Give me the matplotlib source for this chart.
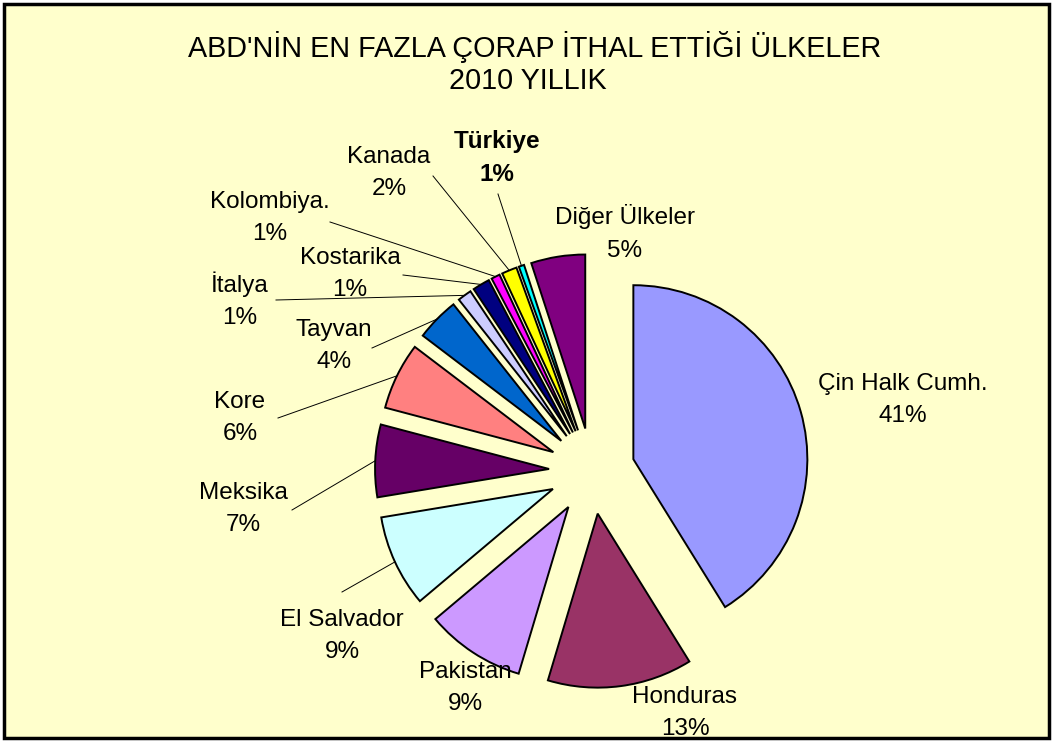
import numpy as np
import matplotlib.pyplot as plt
from matplotlib.patches import Rectangle

plt.rcParams['font.family'] = ['Liberation Sans', 'DejaVu Sans']

# slice order: clockwise from 12 o'clock
countries = ['Çin Halk Cumh.', 'Honduras', 'Pakistan', 'El Salvador', 'Meksika', 'Kore',
             'Tayvan', 'İtalya', 'Kostarika', 'Kolombiya.', 'Kanada', 'Türkiye', 'Diğer Ülkeler']
shares = [41, 13.4, 9.2, 8.5, 6.7, 6.2, 4, 1.3, 1.6, 0.8, 1.4, 0.5, 5]
pct_labels = ['41%', '13%', '9%', '9%', '7%', '6%', '4%', '1%', '1%', '1%', '2%', '1%', '5%']
colors = ['#9999FF', '#993366', '#CC99FF', '#CCFFFF', '#660066', '#FF8080', '#0066CC',
          '#CCCCFF', '#000080', '#FF00FF', '#FFFF00', '#00FFFF', '#800080']

W, H = 1053, 742
fig = plt.figure(figsize=(W / 100, H / 100), dpi=100)
fig.patch.set_facecolor('white')
ax = fig.add_axes([0, 0, 1, 1])

ax.add_patch(Rectangle((4, 4), W - 8, H - 8, facecolor='#FFFFCC', edgecolor='black',
                       linewidth=2.5, zorder=0))

wedges, _ = ax.pie(shares, colors=colors, startangle=90, counterclock=False,
                   explode=[43] * len(shares), center=(592, H - 471), radius=174,
                   wedgeprops=dict(edgecolor='black', linewidth=1.4), frame=True)

ax.set_xlim(0, W)
ax.set_ylim(0, H)
ax.set_aspect('equal')
ax.axis('off')

# label centres (pixels from top-left) and optional leader line start
label_pos = {
    'Çin Halk Cumh.': (903, 400, None),
    'Honduras': (685, 713, None),
    'Pakistan': (465, 688, None),
    'El Salvador': (342, 636, (342, 592)),
    'Meksika': (243, 509, (292, 510)),
    'Kore': (240, 418, (278, 418)),
    'Tayvan': (334, 346, (372, 348)),
    'İtalya': (240, 300, (276, 300)),
    'Kostarika': (350, 274, (403, 275)),
    'Kolombiya.': (270, 218, (330, 222)),
    'Kanada': (389, 173, (433, 176)),
    'Türkiye': (497, 158, (498, 194)),
    'Diğer Ülkeler': (625, 233, None),
}

for w, name, pct in zip(wedges, countries, pct_labels):
    lx, ly, start = label_pos[name]
    weight = 'bold' if name == 'Türkiye' else 'normal'
    ax.text(lx, H - ly, f'{name}\n{pct}', ha='center', va='center', fontsize=17.5,
            fontweight=weight, linespacing=1.6)
    if start is not None:
        # point on outer arc at slice middle
        tm = np.deg2rad((w.theta1 + w.theta2) / 2)
        ex = w.center[0] + w.r * np.cos(tm)
        ey = w.center[1] + w.r * np.sin(tm)
        sx, sy = start
        ax.plot([sx, ex], [H - sy, ey], color='black', linewidth=0.7, zorder=1)

ax.text(W / 2 + 8, H - 47, "ABD'NİN EN FAZLA ÇORAP İTHAL ETTİĞİ ÜLKELER",
        ha='center', va='center', fontsize=20.7)
ax.text(W / 2 + 1, H - 81, '2010 YILLIK', ha='center', va='center', fontsize=20.7)

plt.savefig('out.png', dpi=100, facecolor='white')
